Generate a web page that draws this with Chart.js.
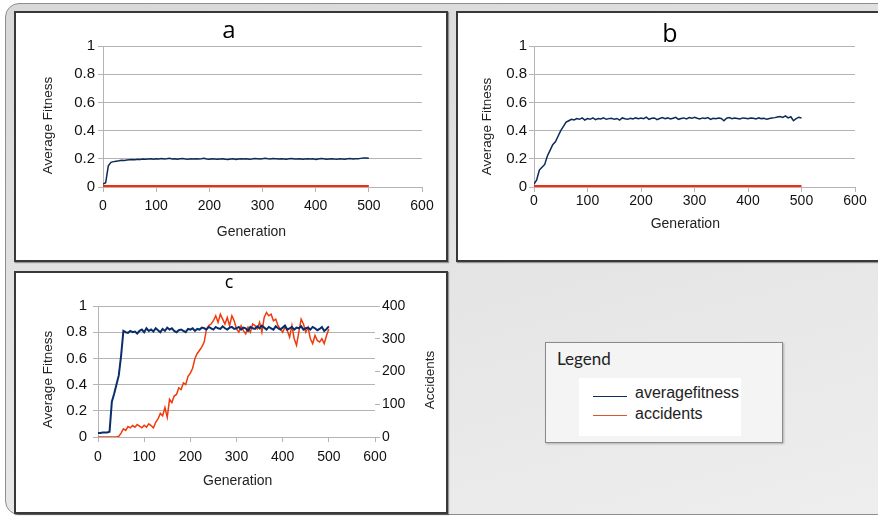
<!DOCTYPE html>
<html><head><meta charset="utf-8">
<script src="https://cdn.jsdelivr.net/npm/chart.js@4.4.1/dist/chart.umd.min.js"></script>
<style>
html,body{margin:0;padding:0;background:#fff;width:878px;height:517px;overflow:hidden;position:relative}
#frame{position:absolute;left:5px;top:3px;width:900px;height:512px;border:1.5px solid #8e8e8e;border-radius:14px;background:linear-gradient(165deg,#d8d8d8 0%,#e3e3e3 45%,#eeeeee 100%);box-sizing:border-box}
.panel{position:absolute;background:#fff;border:2px solid #383838;box-sizing:border-box;box-shadow:1px 1px 1px rgba(0,0,0,.35)}
.panel canvas{position:absolute;left:0;top:0}
#pa{left:14px;top:11px;width:434px;height:251px}
#pb{left:456px;top:11px;width:430px;height:251px}
#pc{left:14px;top:271px;width:434px;height:243px}
#legend{position:absolute;left:545px;top:342px;width:238px;height:101px;border:1px solid #8a8a8a;background:#f4f4f4;box-sizing:border-box;box-shadow:1px 1px 2px rgba(0,0,0,.25)}
#legTitle{position:absolute;left:11px;top:8px;font:17px Lato,'Open Sans',sans-serif;line-height:16px;color:#222}
#legInner{position:absolute;left:33px;top:35px;width:162px;height:58px;background:#fff}
.lline{position:absolute;left:14px;width:34px;height:0;border-top:1.2px solid}
.ltxt{position:absolute;left:56px;font:16px 'Liberation Sans',Arial,sans-serif;line-height:16px;color:#222;white-space:nowrap}
</style></head>
<body>
<div id="frame"></div>
<div class="panel" id="pa"><canvas id="ca" width="430" height="247"></canvas></div>
<div class="panel" id="pb"><canvas id="cb" width="424" height="247"></canvas></div>
<div class="panel" id="pc"><canvas id="cc" width="430" height="239"></canvas></div>
<div id="legend">
  <div id="legTitle">Legend</div>
  <div id="legInner">
    <div class="lline" style="top:18px;border-color:#0b2d5e"></div><div class="ltxt" style="top:7px">averagefitness</div>
    <div class="lline" style="top:37px;border-color:#d9552a"></div><div class="ltxt" style="top:28px">accidents</div>
  </div>
</div>
<script>
const generations = [
  0,5,10,15,20,25,30,35,40,45,
  50,55,60,65,70,75,80,85,90,95,
  100,105,110,115,120,125,130,135,140,145,
  150,155,160,165,170,175,180,185,190,195,
  200,205,210,215,220,225,230,235,240,245,
  250,255,260,265,270,275,280,285,290,295,
  300,305,310,315,320,325,330,335,340,345,
  350,355,360,365,370,375,380,385,390,395,
  400,405,410,415,420,425,430,435,440,445,
  450,455,460,465,470,475,480,485,490,495,
  500];
const fitnessA = [
  0.02,0.03,0.15,0.175,0.18,0.183,0.186,0.19,0.188,0.191,
  0.193,0.195,0.194,0.196,0.195,0.198,0.197,0.199,0.2,0.197,
  0.201,0.199,0.202,0.198,0.2,0.203,0.199,0.201,0.197,0.2,
  0.202,0.198,0.196,0.2,0.199,0.201,0.198,0.2,0.203,0.199,
  0.197,0.2,0.198,0.196,0.199,0.2,0.197,0.195,0.198,0.2,
  0.196,0.199,0.201,0.198,0.2,0.197,0.199,0.202,0.2,0.198,
  0.201,0.203,0.2,0.199,0.202,0.2,0.198,0.201,0.199,0.197,
  0.2,0.202,0.199,0.198,0.2,0.197,0.199,0.201,0.198,0.2,
  0.196,0.199,0.202,0.2,0.197,0.199,0.201,0.198,0.196,0.2,
  0.199,0.197,0.2,0.202,0.198,0.2,0.201,0.203,0.205,0.206,
  0.204];
const accidentsA = [
  0,0,0,0,0,0,0,0,0,0, 0,0,0,0,0,0,0,0,0,0, 0,0,0,0,0,0,0,0,0,0,
  0,0,0,0,0,0,0,0,0,0, 0,0,0,0,0,0,0,0,0,0, 0,0,0,0,0,0,0,0,0,0,
  0,0,0,0,0,0,0,0,0,0, 0,0,0,0,0,0,0,0,0,0, 0,0,0,0,0,0,0,0,0,0,
  0,0,0,0,0,0,0,0,0,0, 0];
const fitnessB = [
  0.02,0.05,0.12,0.14,0.16,0.22,0.26,0.3,0.32,0.36,
  0.4,0.43,0.46,0.47,0.48,0.475,0.485,0.48,0.49,0.475,
  0.485,0.48,0.49,0.478,0.486,0.482,0.49,0.48,0.485,0.488,
  0.48,0.486,0.475,0.49,0.484,0.48,0.488,0.482,0.49,0.485,
  0.49,0.485,0.495,0.48,0.488,0.49,0.478,0.486,0.492,0.484,
  0.49,0.482,0.488,0.494,0.48,0.486,0.49,0.483,0.492,0.487,
  0.495,0.488,0.482,0.49,0.486,0.492,0.48,0.488,0.484,0.49,
  0.486,0.47,0.488,0.492,0.484,0.49,0.486,0.482,0.49,0.488,
  0.484,0.49,0.487,0.482,0.49,0.485,0.488,0.48,0.486,0.49,
  0.492,0.496,0.5,0.494,0.505,0.49,0.498,0.47,0.485,0.495,
  0.49];
const accidentsB = [
  0,0,0,0,0,0,0,0,0,0, 0,0,0,0,0,0,0,0,0,0, 0,0,0,0,0,0,0,0,0,0,
  0,0,0,0,0,0,0,0,0,0, 0,0,0,0,0,0,0,0,0,0, 0,0,0,0,0,0,0,0,0,0,
  0,0,0,0,0,0,0,0,0,0, 0,0,0,0,0,0,0,0,0,0, 0,0,0,0,0,0,0,0,0,0,
  0,0,0,0,0,0,0,0,0,0, 0];
const fitnessC = [
  0.03,0.03,0.035,0.035,0.035,0.04,0.27,0.33,0.4,0.47,
  0.62,0.81,0.8,0.795,0.81,0.8,0.805,0.79,0.81,0.82,
  0.8,0.83,0.81,0.82,0.805,0.83,0.815,0.8,0.825,0.81,
  0.835,0.82,0.83,0.81,0.8,0.815,0.82,0.81,0.8,0.825,
  0.82,0.83,0.81,0.825,0.82,0.835,0.83,0.82,0.84,0.83,
  0.82,0.84,0.83,0.825,0.845,0.83,0.82,0.835,0.84,0.825,
  0.83,0.84,0.82,0.835,0.83,0.81,0.84,0.83,0.825,0.845,
  0.83,0.85,0.835,0.82,0.84,0.83,0.82,0.845,0.83,0.82,
  0.835,0.85,0.82,0.83,0.84,0.82,0.835,0.83,0.845,0.82,
  0.83,0.835,0.82,0.84,0.83,0.815,0.825,0.84,0.81,0.825,
  0.845];
const accidentsC = [
  0,0,0,0,0,0,0,0,0,2,
  12,25,20,32,28,35,30,38,33,28,
  36,30,40,35,28,45,55,72,65,90,
  60,115,105,125,130,150,145,165,160,185,
  195,210,240,255,265,275,290,330,340,345,
  355,370,350,375,360,345,365,340,370,355,
  330,320,340,325,315,335,320,345,340,330,
  350,320,365,380,370,375,355,360,340,330,
  320,335,325,305,340,300,280,320,360,345,
  320,335,300,285,310,295,290,300,285,310,
  330];
const xTicks = [0,100,200,300,400,500,600];
const fitnessTicks = [0,0.2,0.4,0.6,0.8,1];
const accidentTicks = [0,100,200,300,400];

const GRID = '#b4b4b4';
const FAM = "'Liberation Sans', Arial, sans-serif";
const TICK_FONT = {family: FAM, size: 14};
const YTICK_FONT = {family: FAM, size: 15};
Chart.defaults.font.family = FAM;

const axisTitles = {
  id: 'axisTitles',
  afterDraw(chart, args, opts) {
    const ctx = chart.ctx;
    (opts.items || []).forEach(it => {
      ctx.save();
      ctx.font = (it.size || 14) + 'px ' + FAM;
      ctx.fillStyle = '#222';
      ctx.textAlign = 'center';
      ctx.textBaseline = 'middle';
      ctx.translate(it.x, it.y);
      if (it.vertical) ctx.rotate(-Math.PI / 2);
      ctx.fillText(it.text, 0, 0);
      ctx.restore();
    });
  }
};

const pts = ys => generations.map((g, i) => ({x: g, y: ys[i]}));
const step = a => a[1] - a[0];
const fmt = v => String(Number(v.toFixed(2)));

function buildPanel(id, p) {
  const scales = {
    x: {type: 'linear', min: xTicks[0], max: xTicks[xTicks.length - 1],
        ticks: {stepSize: step(xTicks), padding: p.xTickPad, color: '#111', font: TICK_FONT, maxRotation: 0, autoSkip: false, callback: fmt},
        grid: {drawOnChartArea: false, drawTicks: true, tickLength: 5, color: GRID},
        border: {display: true, color: GRID},
        afterFit: s => { s.height = p.xHeight; }},
    y: {type: 'linear', position: 'left', min: fitnessTicks[0], max: fitnessTicks[fitnessTicks.length - 1],
        ticks: {stepSize: step(fitnessTicks), padding: p.yTickPad, color: '#111', font: YTICK_FONT, callback: fmt},
        grid: {color: GRID, drawTicks: true, tickLength: 5},
        border: {display: true, color: GRID},
        afterFit: s => { s.width = p.yWidth; }}
  };
  if (p.rightWidth) {
    scales.yAcc = {type: 'linear', position: 'right', min: accidentTicks[0], max: accidentTicks[accidentTicks.length - 1],
        ticks: {stepSize: step(accidentTicks), padding: 2, color: '#111', font: TICK_FONT, callback: fmt},
        grid: {drawOnChartArea: false, drawTicks: true, tickLength: 5, color: GRID},
        border: {display: false},
        afterFit: s => { s.width = p.rightWidth; }};
  } else {
    scales.yAcc = {type: 'linear', display: false, min: accidentTicks[0], max: accidentTicks[accidentTicks.length - 1]};
  }
  return new Chart(document.getElementById(id), {
    type: 'line',
    data: {datasets: [
      {label: 'averagefitness', data: pts(p.fit), yAxisID: 'y', borderColor: p.blue, borderWidth: p.blueW,
       pointRadius: 0, tension: 0, fill: false},
      {label: 'accidents', data: pts(p.acc), yAxisID: 'yAcc', borderColor: p.red, borderWidth: p.redW,
       pointRadius: 0, tension: 0, fill: false}
    ]},
    options: {
      responsive: false, animation: false, events: [],
      layout: {padding: {left: p.padL, right: p.padR, top: 0, bottom: 0}},
      scales,
      plugins: {
        legend: {display: false}, tooltip: {enabled: false},
        title: {display: true, text: p.title, color: '#000',
                font: {family: "'Open Sans', sans-serif", size: p.titleSize, weight: 'normal', lineHeight: 1},
                padding: {top: p.titlePadTop, bottom: p.titlePadBottom}},
        axisTitles: {items: p.axisTitles}
      }
    },
    plugins: [axisTitles]
  });
}

buildPanel('ca', {
  title: 'a', titleSize: 24, titlePadTop: 6.5, titlePadBottom: 2.5,
  padL: 20, padR: 24, yWidth: 67, xHeight: 73, xTickPad: 6, yTickPad: 3,
  fit: fitnessA, acc: accidentsA, blue: '#0c2a58', blueW: 1.5, red: '#f62b0a', redW: 4,
  axisTitles: [{text: 'Average Fitness', x: 32, y: 112.5, vertical: true, size: 13.5},
               {text: 'Generation', x: 235.5, y: 219, size: 14}]
});
buildPanel('cb', {
  title: 'b', titleSize: 25, titlePadTop: 9, titlePadBottom: -1,
  padL: 27, padR: 27, yWidth: 49, xHeight: 73, xTickPad: 1, yTickPad: 2,
  fit: fitnessB, acc: accidentsB, blue: '#0c2a58', blueW: 1.5, red: '#f62b0a', redW: 4,
  axisTitles: [{text: 'Average Fitness', x: 29, y: 113.5, vertical: true, size: 13.5},
               {text: 'Generation', x: 227.3, y: 211, size: 14}]
});
buildPanel('cc', {
  title: 'c', titleSize: 18, titlePadTop: 1, titlePadBottom: 14,
  padL: 6, padR: 10, yWidth: 76, rightWidth: 61, xHeight: 75, xTickPad: 6.5, yTickPad: 6,
  fit: fitnessC, acc: accidentsC, blue: '#0a2d6b', blueW: 2, red: '#f03a0a', redW: 1.5,
  axisTitles: [{text: 'Average Fitness', x: 32, y: 106.5, vertical: true, size: 13.5},
               {text: 'Generation', x: 221.7, y: 208, size: 14},
               {text: 'Accidents', x: 414, y: 107, vertical: true, size: 13.5}]
});
</script>
</body></html>
